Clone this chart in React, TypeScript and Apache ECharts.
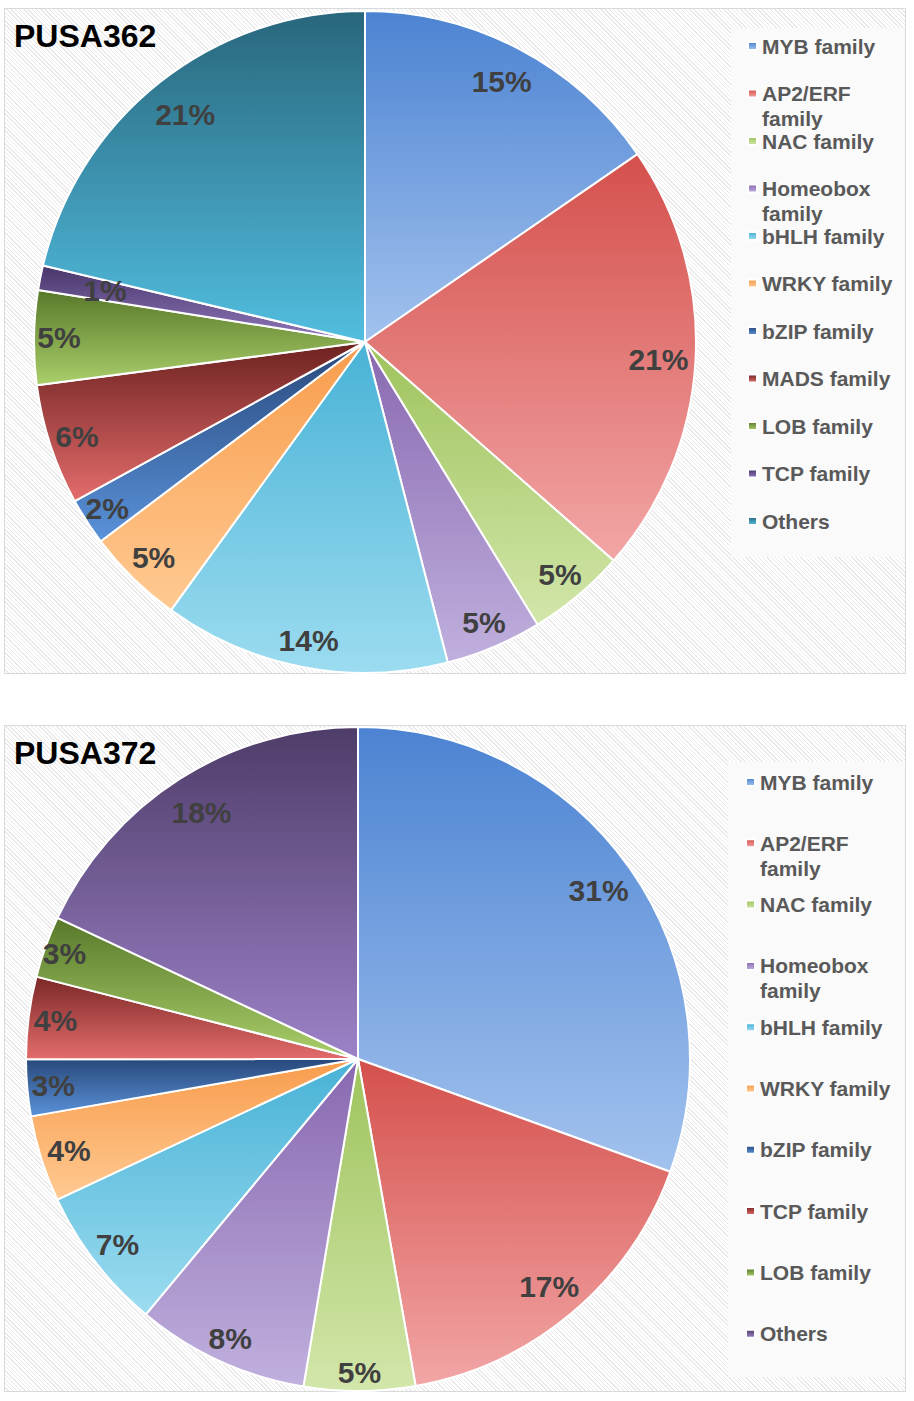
import React, { useEffect, useRef } from "react";
import * as echarts from "echarts";

// ---- Data: PUSA362 ----
const namesA = [
  "MYB family",
  "AP2/ERF family",
  "NAC family",
  "Homeobox family",
  "bHLH family",
  "WRKY family",
  "bZIP family",
  "MADS family",
  "LOB family",
  "TCP family",
  "Others",
];
const valuesA = [15.4, 21.1, 4.8, 4.7, 14.0, 4.75, 2.3, 5.9, 4.6, 1.2, 21.3];

// ---- Data: PUSA372 ----
const namesB = [
  "MYB family",
  "AP2/ERF family",
  "NAC family",
  "Homeobox family",
  "bHLH family",
  "WRKY family",
  "bZIP family",
  "TCP family",
  "LOB family",
  "Others",
];
const valuesB = [30.5, 16.7, 5.4, 8.4, 7.0, 4.2, 2.75, 4.0, 3.0, 18.0];

// ---- Colours (gradient top -> bottom) ----
const gradTopA = ["#4c83d2", "#d4504c", "#9ec35c", "#8868b0", "#48b2d6", "#f89c4c", "#28487a", "#6c2220", "#58782a", "#48366a", "#28667c"];
const gradBotA = ["#a2c2ee", "#f2a6a6", "#d2e6aa", "#c0b0de", "#9cdcf0", "#ffca92", "#5a92da", "#e46c6c", "#aacf6a", "#9078bc", "#52bee0"];
const gradTopB = ["#4c83d2", "#d4504c", "#9ec35c", "#8868b0", "#48b2d6", "#f89c4c", "#28487a", "#7a2826", "#58782a", "#4e3c68"];
const gradBotB = ["#a2c2ee", "#f2a6a6", "#d2e6aa", "#c0b0de", "#9cdcf0", "#ffca92", "#5a92da", "#e46c6c", "#aacf6a", "#9c82c8"];

// ---- Label placement radius per slice (layout) ----
const labelRadA = [291, 291, 300, 302, 301, 299, 304, 300, 303, 262, 287];
const labelRadB = [291, 294, 311, 304, 301, 300, 303, 302, 309, 289];

const FONT = "'Liberation Sans', Arial, sans-serif";

function legendText(name: string): string {
  if (name === "AP2/ERF family") return "AP2/ERF\nfamily";
  if (name === "Homeobox family") return "Homeobox\nfamily";
  return name;
}

function grad(top: string, bot: string) {
  return new echarts.graphic.LinearGradient(0, 0, 0, 1, [
    { offset: 0, color: top },
    { offset: 1, color: bot },
  ]);
}

function buildData(names: string[], values: number[], tops: string[], bots: string[]) {
  return names.map((n, i) => ({
    name: n,
    value: values[i],
    itemStyle: { color: grad(tops[i], bots[i]) },
  }));
}

function buildLegends(names: string[], tops: string[], bots: string[], iconX: number, firstY: number, step: number) {
  const LH = 25;
  return names.map((n, i) => {
    const t = legendText(n);
    const multi = t.indexOf("\n") >= 0;
    const lines = multi ? 3 : 1;
    const cy = firstY + i * step;
    return {
      data: [{ name: n, itemStyle: { color: grad(tops[i], bots[i]) } }],
      left: iconX,
      top: cy - (lines * LH) / 2,
      orient: "vertical",
      padding: 0,
      icon: "rect",
      itemWidth: 9,
      itemHeight: 8,
      selectedMode: false,
      formatter: () => (multi ? "\n" + t : t),
      textStyle: {
        color: "#595959",
        fontSize: 21,
        fontWeight: "bold",
        fontFamily: FONT,
        lineHeight: LH,
      },
    };
  });
}

function pieSeries(data: any[], center: number[], radius: number, labelRad: number[]) {
  const labelFmt = (p: any) => Math.round(p.percent) + "%";
  const main = {
    type: "pie",
    center,
    radius,
    startAngle: 90,
    clockwise: true,
    data,
    label: { show: false },
    labelLine: { show: false },
    itemStyle: { borderColor: "#ffffff", borderWidth: 2 },
    emphasis: { disabled: true },
    z: 2,
  };
  const overlays = data.map((_d: any, k: number) => ({
    type: "pie",
    center,
    radius: [labelRad[k] - 30, labelRad[k] + 30],
    startAngle: 90,
    clockwise: true,
    silent: true,
    legendHoverLink: false,
    data: data.map((d: any, i: number) => ({ name: d.name, value: d.value, label: { show: i === k } })),
    itemStyle: { color: "rgba(0,0,0,0)", borderWidth: 0 },
    label: {
      show: true,
      position: "inside",
      formatter: labelFmt,
      fontSize: 30,
      fontWeight: "bold",
      color: "#404040",
      fontFamily: FONT,
    },
    labelLine: { show: false },
    emphasis: { disabled: true },
    z: 3,
  }));
  return [main, ...overlays];
}

export default function App() {
  const ref = useRef<HTMLDivElement>(null);

  useEffect(() => {
    document.body.style.margin = "0";
    if (!ref.current) return;
    const chart = echarts.init(ref.current, null, { renderer: "svg", width: 914, height: 1401 });

    const dataA = buildData(namesA, valuesA, gradTopA, gradBotA);
    const dataB = buildData(namesB, valuesB, gradTopB, gradBotB);

    const option: any = {
      animation: false,
      backgroundColor: "transparent",
      graphic: [
        { type: "rect", shape: { x: 731, y: 28, width: 174, height: 529 }, style: { fill: "#fafafa" }, z: 0 },
        { type: "rect", shape: { x: 728, y: 762, width: 177, height: 615 }, style: { fill: "#fafafa" }, z: 0 },
        {
          type: "text",
          x: 14,
          y: 36,
          style: { text: "PUSA362", fill: "#000000", font: "bold 32px " + FONT, verticalAlign: "middle", align: "left" },
          z: 10,
        },
        {
          type: "text",
          x: 14,
          y: 753,
          style: { text: "PUSA372", fill: "#000000", font: "bold 32px " + FONT, verticalAlign: "middle", align: "left" },
          z: 10,
        },
      ],
      legend: [
        ...buildLegends(namesA, gradTopA, gradBotA, 747, 46, 47.5),
        ...buildLegends(namesB, gradTopB, gradBotB, 745, 782, 61.3),
      ],
      series: [
        ...pieSeries(dataA, [365, 342], 331, labelRadA),
        ...pieSeries(dataB, [358, 1059], 332, labelRadB),
      ],
    };
    chart.setOption(option);
    return () => chart.dispose();
  }, []);

  const hatch =
    "repeating-linear-gradient(45deg, #ffffff 0px, #ffffff 2px, #e9e9e9 2px, #e9e9e9 3px)";
  return (
    <div style={{ position: "relative", width: 914, height: 1401, overflow: "hidden", background: "#ffffff" }}>
      <div
        style={{
          position: "absolute",
          left: 4,
          top: 8,
          width: 900,
          height: 664,
          border: "1px solid #d9d9d9",
          background: hatch,
        }}
      />
      <div
        style={{
          position: "absolute",
          left: 4,
          top: 725,
          width: 900,
          height: 665,
          border: "1px solid #d9d9d9",
          background: hatch,
        }}
      />
      <div ref={ref} style={{ position: "absolute", left: 0, top: 0, width: 914, height: 1401 }} />
    </div>
  );
}
